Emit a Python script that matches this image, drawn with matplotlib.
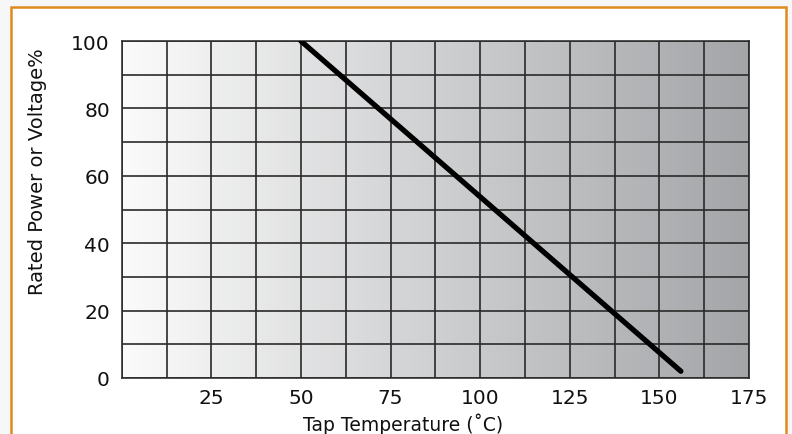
import numpy as np
import matplotlib
matplotlib.use("Agg")
import matplotlib.pyplot as plt
from matplotlib.patches import Rectangle
from matplotlib.colors import LinearSegmentedColormap

# Data
temps = [50, 156]
rated = [100, 2]
x_ticks = [25, 50, 75, 100, 125, 150, 175]
y_ticks = [0, 20, 40, 60, 80, 100]
x_label = "Tap Temperature (˚C)"
y_label = "Rated Power or Voltage%"

fig = plt.figure(figsize=(7.92, 4.35), dpi=100)
fig.patch.set_facecolor("#f7f7f7")

# orange frame
frame = Rectangle((10.5 / 792, -0.05), (786 - 10.5) / 792, (435 - 8) / 435 + 0.05,
                  transform=fig.transFigure, facecolor="white", edgecolor="#e08a1e",
                  linewidth=1.8, zorder=-5)
fig.patches.append(frame)

ax = fig.add_axes([121.7 / 792, 56 / 435, 627.3 / 792, 337 / 435])
ax.set_xlim(0, 175)
ax.set_ylim(0, 100)

# gradient background
grad = np.linspace(0, 1, 256).reshape(1, -1)
cmap = LinearSegmentedColormap.from_list("g", ["#fbfbfb", "#a3a5a8"])
ax.imshow(grad, extent=[0, 175, 0, 100], aspect="auto", cmap=cmap, zorder=0)

ax.set_xticks(x_ticks)
ax.set_yticks(y_ticks)
ax.set_xticks(np.arange(0, 176, 12.5), minor=True)
ax.set_yticks(np.arange(0, 101, 10), minor=True)
ax.grid(True, which="both", color="#2a2a2a", linewidth=1.2, zorder=1)
ax.tick_params(which="both", length=0, labelsize=14.5, colors="#111111")
ax.tick_params(axis="x", pad=7.5)
ax.tick_params(axis="y", pad=8.5)
for s in ax.spines.values():
    s.set_color("#333333")
    s.set_linewidth(1.2)
ax.set_axisbelow(False)

ax.plot(temps, rated, color="black", linewidth=3.8, solid_capstyle="round", zorder=3)

fig.text(403 / 792, 1 - 424 / 435, x_label, ha="center", va="center", fontsize=13.5, color="#111111")
fig.text(38 / 792, 1 - 172 / 435, y_label, ha="center", va="center", rotation=90, fontsize=14, color="#111111")

fig.savefig("out.png", dpi=100, facecolor=fig.get_facecolor())
